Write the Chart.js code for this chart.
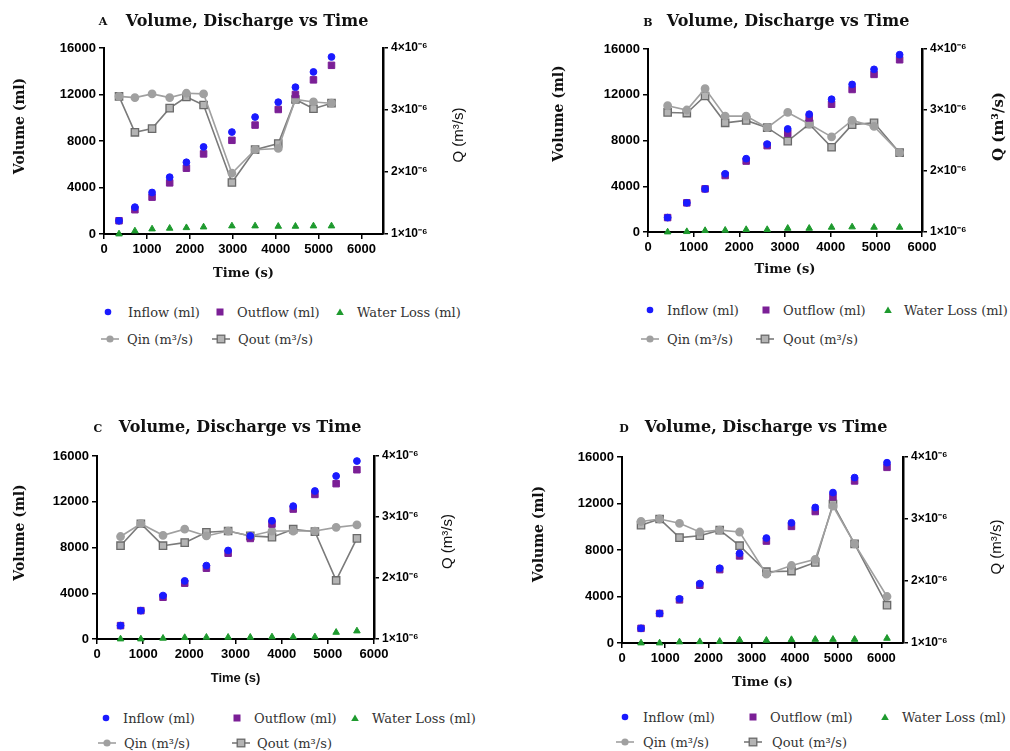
<!DOCTYPE html>
<html>
<head>
<meta charset="utf-8">
<title>Volume, Discharge vs Time</title>
<script src="https://cdn.jsdelivr.net/npm/chart.js@4.4.0/dist/chart.umd.min.js"></script>
<style>
  body { margin: 0; background: #fff; width: 1010px; height: 751px; position: relative; overflow: hidden; }
  canvas { position: absolute; }
  .ttl { position: absolute; font: bold 16px "DejaVu Serif", serif; color: #111; white-space: nowrap; transform: translate(-50%, -50%); }
  .letter { position: absolute; font: bold 11px "DejaVu Serif", serif; color: #111; transform: translate(-50%, -50%); }
  .legtext { position: absolute; font: 13px "DejaVu Serif", serif; color: #333; white-space: nowrap; transform: translateY(-50%); }
  .legmark { position: absolute; }
</style>
</head>
<body>
<script>
// shared axis ticks + labels
const timeTicks = [0, 1000, 2000, 3000, 4000, 5000, 6000];
const volumeTicks = [0, 4000, 8000, 12000, 16000];
const qTicks = [1, 2, 3, 4];            // in units of 10^-6 m3/s
const qTickLabels = ['1×10⁻⁶', '2×10⁻⁶', '3×10⁻⁶', '4×10⁻⁶'];
const seriesNames = ['Inflow (ml)', 'Outflow (ml)', 'Water Loss (ml)', 'Qin (m³/s)', 'Qout (m³/s)'];
const panelLetters = ['A', 'B', 'C', 'D'];
const chartTitle = 'Volume, Discharge vs Time';

// panel A
const timeA = [350, 720, 1120, 1530, 1920, 2320, 2980, 3520, 4060, 4460, 4880, 5300];
const inflowA = [1140, 2310, 3570, 4890, 6170, 7490, 8770, 10060, 11340, 12630, 13940, 15230];
const outflowA = [1140, 2090, 3170, 4400, 5660, 6890, 8060, 9370, 10710, 12000, 13260, 14510];
const lossA = [0, 260, 430, 490, 540, 600, 690, 690, 660, 660, 690, 690];
const qinA = [3.22, 3.20, 3.26, 3.20, 3.27, 3.26, 1.98, 2.36, 2.38, 3.17, 3.13, 3.11];
const qoutA = [3.22, 2.64, 2.70, 3.03, 3.21, 3.08, 1.83, 2.36, 2.46, 3.17, 3.02, 3.11];

// panel B
const timeB = [430, 850, 1250, 1690, 2150, 2610, 3060, 3530, 4020, 4470, 4950, 5510];
const inflowB = [1260, 2550, 3770, 5090, 6410, 7690, 9010, 10300, 11610, 12900, 14220, 15500];
const outflowB = [1260, 2550, 3770, 4940, 6200, 7550, 8630, 9970, 11170, 12460, 13780, 15060];
const lossB = [0, 30, 120, 150, 210, 210, 320, 320, 410, 440, 410, 410];
const qinB = [3.07, 3.00, 3.35, 2.90, 2.90, 2.71, 2.96, 2.77, 2.56, 2.83, 2.73, 2.30];
const qoutB = [2.96, 2.95, 3.23, 2.79, 2.83, 2.71, 2.49, 2.77, 2.39, 2.76, 2.79, 2.30];

// panel C
const timeC = [510, 950, 1430, 1900, 2370, 2840, 3320, 3790, 4250, 4720, 5180, 5630];
const inflowC = [1170, 2480, 3800, 5080, 6420, 7740, 9020, 10340, 11620, 12940, 14250, 15560];
const outflowC = [1170, 2480, 3650, 4880, 6190, 7500, 8790, 10050, 11360, 12640, 13580, 14800];
const lossC = [0, 0, 60, 120, 150, 150, 150, 180, 180, 180, 580, 700];
const qinC = [2.68, 2.89, 2.70, 2.80, 2.69, 2.77, 2.69, 2.77, 2.77, 2.77, 2.83, 2.87];
const qoutC = [2.53, 2.89, 2.53, 2.58, 2.75, 2.77, 2.69, 2.67, 2.80, 2.76, 1.96, 2.65];

// panel D
const timeD = [440, 870, 1330, 1800, 2260, 2720, 3340, 3920, 4470, 4880, 5380, 6130];
const inflowD = [1260, 2540, 3800, 5110, 6430, 7710, 9030, 10340, 11660, 12940, 14230, 15510];
const outflowD = [1260, 2540, 3710, 4970, 6310, 7490, 8770, 10030, 11310, 12570, 13940, 15110];
const lossD = [0, 0, 90, 110, 140, 260, 230, 290, 310, 310, 310, 400];
const qinD = [2.96, 3.00, 2.93, 2.79, 2.82, 2.79, 2.11, 2.25, 2.35, 3.21, 2.60, 1.75];
const qoutD = [2.90, 3.00, 2.70, 2.73, 2.82, 2.57, 2.15, 2.16, 2.30, 3.24, 2.60, 1.61];

const panelData = [
    { time: timeA, inflow: inflowA, outflow: outflowA, loss: lossA, qin: qinA, qout: qoutA, xMax: 6500 },
    { time: timeB, inflow: inflowB, outflow: outflowB, loss: lossB, qin: qinB, qout: qoutB, xMax: 6000 },
    { time: timeC, inflow: inflowC, outflow: outflowC, loss: lossC, qin: qinC, qout: qoutC, xMax: 6000 },
    { time: timeD, inflow: inflowD, outflow: outflowD, loss: lossD, qin: qinD, qout: qoutD, xMax: 6500 },
]

// where things sit on the page (canvas box, chart area, titles, legend)
const panelLayout = [
    { cx: 0, cy: 0, h: 290, L: 104, T: 48, R: 383, B: 234, xTitleY: 274, timeFont: 'DejaVu Serif',
      leftOff: 84, leftShift: -15, rightOff: 76, rightShift: -6, qFont: '15px "Liberation Sans"',
      letter: [103, 21], title: [247, 20],
      legend: [[108, 128, 312], [220, 237, 312], [340, 357, 312], [110, 127, 339], [221, 238, 339]] },
    { cx: 505, cy: 0, h: 290, L: 648, T: 49, R: 922, B: 232, xTitleY: 270, timeFont: 'DejaVu Serif',
      leftOff: 89, leftShift: -27, rightOff: 77, rightShift: -14, qFont: 'bold 15px "DejaVu Serif"',
      letter: [648, 22], title: [788, 20],
      legend: [[650, 667, 310], [766, 783, 310], [888, 904, 310], [650, 667, 339], [765, 783, 339]] },
    { cx: 0, cy: 400, h: 300, L: 97, T: 456, R: 374, B: 639, xTitleY: 678, timeFont: 'Liberation Sans',
      leftOff: 77, leftShift: -15, rightOff: 74, rightShift: -6, qFont: '15px "Liberation Sans"',
      letter: [98, 428], title: [240, 426],
      legend: [[106, 123, 718], [237, 254, 718], [355, 372, 718], [107, 124, 743], [241, 257, 743]] },
    { cx: 505, cy: 400, h: 300, L: 622, T: 457, R: 903, B: 643, xTitleY: 683, timeFont: 'DejaVu Serif',
      leftOff: 83, leftShift: -16, rightOff: 94, rightShift: -3, qFont: '15px "Liberation Sans"',
      letter: [624, 428], title: [766, 426],
      legend: [[625, 643, 717], [753, 770, 717], [885, 902, 717], [625, 643, 742], [753, 772, 742]] },
]

const BLUE = '#1a1aff'
const PURPLE = '#7b1f96'
const GREEN = '#1e9a2e'
const QIN_GRAY = '#a0a0a0'
const QOUT_GRAY = '#7a7a7a'

const CANVAS_W = 505
const RIGHT_AXIS_W = 60

// draws the two vertical axis titles, both reading bottom-to-top
const sideTitles = {
    id: 'sideTitles',
    afterDraw(chart, args, o) {
        const ctx = chart.ctx
        const a = chart.chartArea
        const mid = (a.top + a.bottom) / 2
        ctx.save()
        ctx.fillStyle = '#111'
        ctx.textAlign = 'center'
        ctx.textBaseline = 'middle'
        ctx.font = 'bold 14px "DejaVu Serif"'
        ctx.translate(a.left - o.leftOff, mid + o.leftShift)
        ctx.rotate(-Math.PI / 2)
        ctx.fillText('Volume (ml)', 0, 0)
        ctx.restore()

        ctx.save()
        ctx.fillStyle = '#111'
        ctx.textAlign = 'center'
        ctx.textBaseline = 'middle'
        ctx.font = o.qFont
        ctx.translate(a.right + o.rightOff, mid + o.rightShift)
        ctx.rotate(-Math.PI / 2)
        ctx.fillText('Q (m³/s)', 0, 0)
        ctx.restore()
    }
}

function pts(xs, ys) {
    return xs.map((x, k) => ({ x: x, y: ys[k] }))
}

const tickFont = { family: 'Liberation Sans', weight: 'bold', size: 13 }
const axisGrid = { drawOnChartArea: false, drawTicks: true, tickLength: 5, color: '#000', lineWidth: 1.5 }

function makePanel(i) {
    const d = panelData[i]
    const lay = panelLayout[i]

    const canvas = document.createElement('canvas')
    canvas.width = CANVAS_W
    canvas.height = lay.h
    canvas.style.left = lay.cx + 'px'
    canvas.style.top = lay.cy + 'px'
    document.body.appendChild(canvas)

    const leftW = lay.L - lay.cx
    const padRight = lay.cx + CANVAS_W - lay.R - RIGHT_AXIS_W
    const xH = lay.xTitleY + 7.8 - lay.B
    const padBottom = lay.cy + lay.h - lay.B - xH

    new Chart(canvas, {
        type: 'scatter',
        data: {
            datasets: [
                { label: seriesNames[0], data: pts(d.time, d.inflow), yAxisID: 'y', showLine: false, clip: false,
                  pointStyle: 'circle', pointRadius: 3.4, backgroundColor: BLUE, borderColor: BLUE, borderWidth: 1 },
                { label: seriesNames[1], data: pts(d.time, d.outflow), yAxisID: 'y', showLine: false, clip: false,
                  pointStyle: 'rect', pointRadius: 4.6, backgroundColor: PURPLE, borderColor: PURPLE, borderWidth: 1 },
                { label: seriesNames[2], data: pts(d.time, d.loss), yAxisID: 'y', showLine: false, clip: false,
                  pointStyle: 'triangle', pointRadius: 3.8, backgroundColor: GREEN, borderColor: GREEN, borderWidth: 1 },
                { label: seriesNames[3], data: pts(d.time, d.qin), yAxisID: 'q', showLine: true, clip: false,
                  borderColor: QIN_GRAY, borderWidth: 1.6, pointStyle: 'circle', pointRadius: 3.6,
                  pointBackgroundColor: QIN_GRAY, pointBorderColor: QIN_GRAY },
                { label: seriesNames[4], data: pts(d.time, d.qout), yAxisID: 'q', showLine: true, clip: false,
                  borderColor: QOUT_GRAY, borderWidth: 1.6, pointStyle: 'rect', pointRadius: 5.2,
                  pointBackgroundColor: '#b4b4b4', pointBorderColor: '#6a6a6a', pointBorderWidth: 1.3 },
            ]
        },
        options: {
            responsive: false,
            animation: false,
            devicePixelRatio: 1,
            layout: { padding: { left: 0, top: lay.T - lay.cy, right: padRight, bottom: padBottom } },
            plugins: {
                legend: { display: false },
                tooltip: { enabled: false },
                sideTitles: { leftOff: lay.leftOff, leftShift: lay.leftShift, rightOff: lay.rightOff,
                              rightShift: lay.rightShift, qFont: lay.qFont },
            },
            scales: {
                x: {
                    type: 'linear', min: 0, max: d.xMax,
                    afterBuildTicks: (s) => { s.ticks = timeTicks.map(v => ({ value: v })) },
                    afterFit: (s) => { s.height = xH },
                    ticks: { callback: (v) => String(v), font: tickFont, color: '#000', padding: 3, maxRotation: 0, autoSkip: false },
                    grid: axisGrid,
                    border: { display: true, color: '#000', width: 2 },
                    title: { display: true, text: 'Time (s)', color: '#111', padding: 0,
                             font: { family: lay.timeFont, weight: 'bold', size: 13, lineHeight: 1.2 } },
                },
                y: {
                    type: 'linear', position: 'left', min: 0, max: 16000,
                    afterBuildTicks: (s) => { s.ticks = volumeTicks.map(v => ({ value: v })) },
                    afterFit: (s) => { s.width = leftW },
                    ticks: { callback: (v) => String(v), font: tickFont, color: '#000', padding: 3 },
                    grid: axisGrid,
                    border: { display: true, color: '#000', width: 2 },
                },
                q: {
                    type: 'linear', position: 'right', min: 1, max: 4,
                    afterBuildTicks: (s) => { s.ticks = qTicks.map(v => ({ value: v })) },
                    afterFit: (s) => { s.width = RIGHT_AXIS_W },
                    ticks: { callback: (v) => qTickLabels[qTicks.indexOf(v)], font: { family: 'Liberation Sans', weight: 'bold', size: 12 }, color: '#000', padding: 3 },
                    grid: axisGrid,
                    border: { display: true, color: '#000', width: 2.5 },
                },
            }
        },
        plugins: [sideTitles]
    })

    // heading
    const letter = document.createElement('div')
    letter.className = 'letter'
    letter.textContent = panelLetters[i]
    letter.style.left = lay.letter[0] + 'px'
    letter.style.top = lay.letter[1] + 'px'
    document.body.appendChild(letter)

    const ttl = document.createElement('div')
    ttl.className = 'ttl'
    ttl.textContent = chartTitle
    ttl.style.left = lay.title[0] + 'px'
    ttl.style.top = lay.title[1] + 'px'
    document.body.appendChild(ttl)

    // legend
    lay.legend.forEach((pos, k) => {
        const m = legendMarker(k)
        m.style.left = (pos[0] - m.width / 2) + 'px'
        m.style.top = (pos[2] - m.height / 2) + 'px'
        document.body.appendChild(m)

        const t = document.createElement('div')
        t.className = 'legtext'
        t.textContent = seriesNames[k]
        t.style.left = pos[1] + 'px'
        t.style.top = pos[2] + 'px'
        document.body.appendChild(t)
    })
}

function legendMarker(k) {
    const w = k >= 3 ? 20 : 10
    const c = document.createElement('canvas')
    c.width = w
    c.height = 12
    c.className = 'legmark'
    const g = c.getContext('2d')
    if (k === 0) {
        g.fillStyle = BLUE
        g.beginPath(); g.arc(5, 6, 3.3, 0, Math.PI * 2); g.fill()
    } else if (k === 1) {
        g.fillStyle = PURPLE
        g.fillRect(1.5, 2.5, 7, 7)
    } else if (k === 2) {
        g.fillStyle = GREEN
        g.beginPath(); g.moveTo(5, 2.5); g.lineTo(8.8, 9); g.lineTo(1.2, 9); g.closePath(); g.fill()
    } else if (k === 3) {
        g.strokeStyle = QIN_GRAY; g.lineWidth = 1.6
        g.beginPath(); g.moveTo(1, 6); g.lineTo(19, 6); g.stroke()
        g.fillStyle = QIN_GRAY
        g.beginPath(); g.arc(10, 6, 3.6, 0, Math.PI * 2); g.fill()
    } else {
        g.strokeStyle = QOUT_GRAY; g.lineWidth = 1.6
        g.beginPath(); g.moveTo(1, 6); g.lineTo(19, 6); g.stroke()
        g.fillStyle = '#b4b4b4'; g.fillRect(6.2, 2.2, 7.6, 7.6)
        g.strokeStyle = '#6a6a6a'; g.lineWidth = 1.3; g.strokeRect(6.2, 2.2, 7.6, 7.6)
    }
    return c
}

for (let i = 0; i < 4; i++) {
    makePanel(i)
}
</script>
</body>
</html>
